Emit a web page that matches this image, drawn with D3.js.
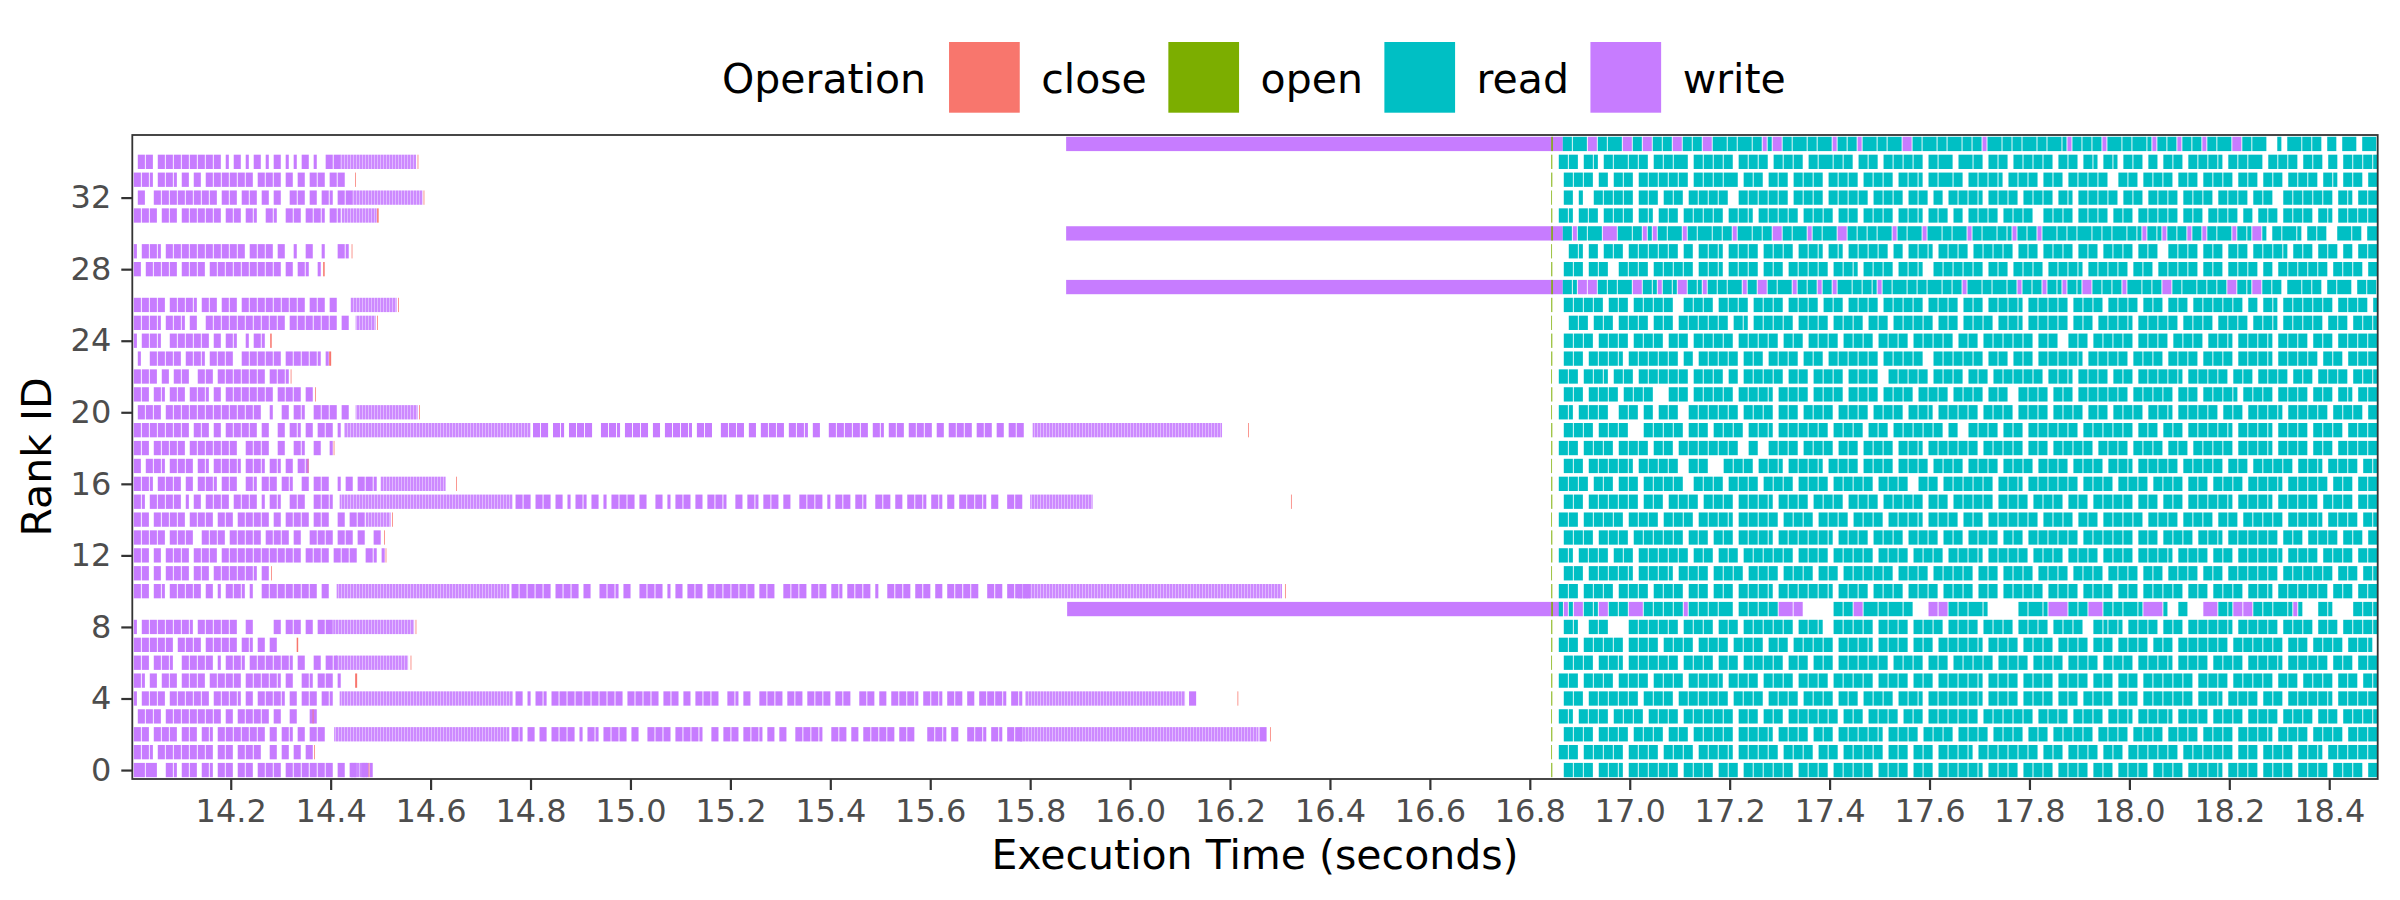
<!DOCTYPE html>
<html><head><meta charset="utf-8">
<script src="https://cdn.jsdelivr.net/npm/d3@7"></script>
<style>
body{margin:0;background:#fff}
svg{display:block}
text{font-family:"DejaVu Sans",sans-serif}
</style></head>
<body><svg id="chart" width="2400" height="900"></svg>
<script>
// ---------------- data ----------------
const operations = ["close", "open", "read", "write"];
const opColors = ["#F8766D", "#7CAE00", "#00BFC4", "#C77CFF"];
const timeTicks = [14.2,14.4,14.6,14.8,15.0,15.2,15.4,15.6,15.8,16.0,16.2,16.4,16.6,16.8,17.0,17.2,17.4,17.6,17.8,18.0,18.2,18.4];
const rankTicks = [0,4,8,12,16,20,24,28,32];
const timeDomain = [14.003, 18.497];
const rankDomain = [-0.5, 35.5];

// write-phase traces: [rank, start time, pattern]; one character = 8 ms
// W = a write begins, w = it continues, . = idle
const writeSlot = 0.008;
const writeTraces = [
  [0, 14.006, "WwwWww..WwW.WwWw.WwW.WwWw.WwWw.WwWwWw.WwWwWwWwWwWw.Ww.Ww.WwW"],
  [1, 14.006, "WwWwW.WwWwWwWwWwWwWw.WwWw.WwWwWw..Ww.Ww.Ww.Ww"],
  [2, 14.006, "WwWw.WwWwWw.WwWw.WwW.WwWwWwWwWwWw.Ww.WwW.Ww.WwWw."],
  [2, 14.762, "WwW.Ww.Ww.WwWwWw.W.WwW.WwWwWw.Ww..WwWwWw.WwWwWwW..Ww.WwWw.WwWwW.Ww.Ww..WwWwWwW..WwWw.Ww.WwWwWwWw.WwWw...WwWwW.Ww..WwWwW.WwW.WwWw"],
  [2, 16.259, "Ww"],
  [3, 14.006, ".WwWwWw.WwWwWwWwWwWwWw.Ww.WwWwWwWw.Ww..Ww...Ww"],
  [4, 14.006, "W.WwWwWw.WwWwWwWwWw.WwWwWwW.Ww.WwWwWwW.Ww.WwWw.WwW."],
  [4, 14.770, "Ww.W.WwW.WwWwWwWwWwWwWwWwWw.WwWwWwWw.WwWw.Ww.WwWwWw..WwW.Ww..WwWwWw.WwWw.WwWwWw.WwWw..WwWw.Ww.WwWwWwW.WwWwW.WwWw.Ww.WwWwWwW.WwW"],
  [4, 16.118, "Ww"],
  [5, 14.006, "WwW.Ww.WwWw.WwWwWw.WwWwWwWw.WwWwWwWwW.Ww..WwW.WwWw.W."],
  [6, 14.006, "WwWw.WwWwW..WwWwWwWw.W.WwWwW.WwWwWwWwWwW.Ww..Ww.WwW"],
  [7, 14.006, "WwWwWwWwWw.WwWwWw.WwWwWwWw.WwW.Ww.Ww."],
  [8, 14.006, "W.WwWwWwWwWwWwW.WwWwWwWwWw..Ww.....Ww.WwWw.Ww.WwWw"],
  [10, 14.006, "WwWw.WwW.WwWwWwWw.Ww.W.WwWwW.W..WwWwWwWwWwWwWw.Ww."],
  [10, 14.762, "WwWwWwWwWw.WwWwWw.Ww..WwWwW.Ww..WwWwWw.W.Ww.WwWw.WwWwWwWwWwWw.WwWw..WwWwWw.WwWw.WwW.WwWwWw.W..WwWwWw.WwWw.Ww.WwWwWwWw..WwWw.WwWwWw"],
  [11, 14.006, "WwWw.Ww.WwWwWw.WwWw.WwWwWwWwWwW.Ww"],
  [12, 14.006, "WwWw.Ww.WwWwWw.WwWwWw.WwWwWwWwWwWwWwWwWwWw.WwWwWw.WwWwWw..WwW.W"],
  [13, 14.006, "WwWwWwWw.WwWwWw..WwWwWw.WwWwWwWw.WwWwWw.Ww..WwWwWw.WwWw.Ww..Ww"],
  [14, 14.006, "WwWw.WwWwWwWw.WwWwWw.WwWw.WwWwWwWw.Ww.WwWwWw.WwWw..Ww.WwWw"],
  [15, 14.006, "WwW.WwWwWwWw.W.Ww.WwWwWw.WwWwWw.W.WwW..WwWw..WwWwW."],
  [15, 14.770, "WwWw.WwWw.Ww.W.WwW.Ww.W.WwWwWw.Ww..Ww.W.WwWw.Ww.WwWwW..Ww.WwW.WwWw.Ww..WwWwWw.W.WwWw.WwW..WwWw.Ww.WwWwW.WwW.Ww.WwWwWwW.Ww..WwWw"],
  [16, 14.006, "WwWwW.WwWwWw.Ww.WwWwW.WwWw..WwW.WwWw.WwW..Ww.WwWw..W.Ww.WwWwW."],
  [17, 14.006, "Ww.WwWwW.WwWwWw.WwW.WwWwWwW.WwWwW.WwW.Ww.WwW"],
  [18, 14.006, "WwWw.WwWwWwWw.WwWwWwWwWwWw..WwWwWw..Ww..WwW..Ww..W"],
  [19, 14.006, "WwWwWwWwWwWwWw.WwWw.Ww.WwWwWwWw.Ww..Ww.WwW.Ww.WwWw.W"],
  [19, 14.805, "WwWw.WwW.WwWwWw..WwWwW.WwWwWw.Ww.WwWwWwW.WwWw..WwWwWw.Ww.WwWwWw.WwWwW.Ww..WwWwWwWwWw.WwW.WwWw.WwWwWw.Ww.WwWwWw.WwWw.Ww.WwWw"],
  [20, 14.006, ".WwWwWw.WwWwWwWwWwWwWwWwWwWwWwWw..W..Ww.WwW..WwWwWw.Ww."],
  [21, 14.006, "WwWw.WwW.WwWw.WwWwW.Ww.WwWwWwWwWwWw.WwWwWw.Ww"],
  [22, 14.006, "WwWwWw.Ww.WwWw..WwWw.WwWwWwWwWwWw.WwWwW"],
  [23, 14.006, ".W..WwWwWwWw.WwWwW.WwWwWw..WwWwWwWwWw.WwWwWwWwW.W"],
  [24, 14.006, "W.WwWwW..WwWwWwWwWw.Ww.WwW..W.WwW."],
  [25, 14.006, "WwWwWwW.WwWwW.Ww..WwWwWwWwWwWwWwWwWwWw.WwWwWwWwWwWw.Ww."],
  [26, 14.006, "WwWwWwWw.WwWwWwW.WwWw.WwWw.WwWwWwWwWwWwWwWw.WwWw.Ww..."],
  [28, 14.006, "Ww.WwWwWwWw.WwWwWw.WwWwWwWwWwWwWwWwWw.Ww.WwW..W"],
  [29, 14.006, "W.WwWwW.WwWwWwWwWwWwWwWwWwWw.WwWwWw.Ww..W..Ww..W...WwW"],
  [31, 14.006, "WwWwWw.WwWw.WwWwWwWwWw.WwWw.WwW..WwW..WwWw.WwWwW.WwW"],
  [32, 14.006, ".Ww..WwWwWwWwWwWwWwWw.WwWw.WwWw.Ww.Ww..WwWw.Ww.WwW.WwWw"],
  [33, 14.006, "WwWwW.WwWwW.Ww.Ww.WwWwWwWwWwWw.WwWwWw.Ww.Ww.WwWw.WwWw"],
  [34, 14.006, ".WwWw.WwWwWwWwWwWwWwWw.W.Ww.W.Ww.W.Ww.W.W.Ww.W..WwWw"]
];

// bursts of very short writes: [rank, start, end]
const denseWrites = [
  [0, 14.440, 14.473], [2, 14.407, 14.758], [2, 15.780, 16.257],
  [4, 14.418, 14.765], [4, 15.790, 16.110], [6, 14.410, 14.555],
  [8, 14.405, 14.567], [10, 14.412, 14.758], [10, 15.776, 16.304],
  [14, 14.470, 14.520], [15, 14.418, 14.764], [15, 15.800, 15.925],
  [16, 14.500, 14.630], [19, 14.427, 14.800], [19, 15.805, 16.184],
  [20, 14.450, 14.574], [25, 14.450, 14.490], [26, 14.440, 14.532],
  [31, 14.422, 14.492], [32, 14.444, 14.584], [34, 14.420, 14.571]
];

// long single writes: [rank, start, end]
const longWrites = [[9, 15.874, 16.866], [27, 15.872, 16.866], [30, 15.872, 16.866], [35, 15.872, 16.866]];

// read-phase traces: [rank, start time, pattern]; one character = 10 ms
// R/r = read, W/w = write, . = idle (spaces are only for readability)
const readSlot = 0.010;
const readTraces = [
  [0, 16.858, ".RrRrRr.Rr RrR.RrRrRr RrRr.RrRrR r.RrRr.RrR rRrRrRr.Rr RrRr.RrRrR rRr.RrRrRr .RrRr.RrRr RrRrR.RrRr Rr.RrRrRr. RrRrRr.RrR r.RrRrRr.R rRrRr.RrRr RrR.RrRrRr .RrRrRr.Rr RrRr.RrRrR r.RrRr.RrR"],
  [1, 16.858, "RrRr.RrRrR rRr.RrRrRr .RrRrRr.Rr RrRrR.RrRr RrRr.RrRrR r.RrRr.RrR rRrRr.RrRr .RrRr.RrRr RrR.RrRrRr RrRrRr.RrR r.RrRrRr.R rRr.RrRrRr RrRr.RrRrR rRrRr.RrRr .RrRrRr.Rr RrR.RrRrRr RrRr.RrRr."],
  [2, 16.858, ".RrRrRr.Rr RrRr.RrRrR r.RrRr.RrR rRrRr.RrRr RrR.RrRrRr .RrRr.RrRr RrRrR.RrRr Rr.RrRrRr. RrRrRr.RrR rRr.RrRr.R rRrRrRr.Rr RrRr.RrRrR r.RrRrRr.R rRrRr.RrRr RrR.RrRrRr .RrRrRr.Rr RrRr.RrRr."],
  [3, 16.858, "RrR.RrRrRr .RrRrRr.Rr RrRr.RrRrR rRrRr.RrRr .RrRr.RrRr RrRrRr.RrR r.RrRrRr.R rRr.RrRrRr RrRr.RrRrR rRrRr.RrRr Rr.RrRrRr. RrRrR.RrRr RrR.RrRrRr .RrRrRr.Rr RrRr.RrRrR r.RrRr.RrR rRrRrRr.Rr"],
  [4, 16.858, ".RrRr.RrRr RrRrRr.RrR rRr.RrRrRr RrRr.RrRrR r.RrRrRr.R rRrRr.RrRr .RrRrRr.Rr RrR.RrRrRr RrRrR.RrRr Rr.RrRrRr. RrRr.RrRrR r.RrRr.RrR rRrRrRr.Rr RrR.RrRrRr .RrRr.RrRr RrRrR.RrRr RrRr.RrRrR"],
  [5, 16.858, "RrRr.RrRrR r.RrRrRr.R rRrRr.RrRr RrR.RrRrRr .RrRrRr.Rr RrRr.RrRrR rRr.RrRrRr .RrRr.RrRr RrRrR.RrRr Rr.RrRrRr. RrRrRr.RrR r.RrRr.RrR rRrRrRr.Rr RrRr.RrRrR rRr.RrRr.R rRrRr.RrRr .RrRrRr.Rr"],
  [6, 16.858, ".RrRrRr.Rr RrR.RrRrRr RrRr.RrRrR r.RrRr.RrR rRrRr.RrRr .RrRr.RrRr RrRrRr.RrR rRr.RrRr.R rRrRrRr.Rr RrRr.RrRrR r.RrRrRr.R rRrRr.RrRr RrR.RrRrRr .RrRrRr.Rr RrRrR.RrRr RrRr.RrRr. RrRrRr.RrR"],
  [7, 16.858, "RrRr.RrRrR rRr.RrRrRr .RrRrRr.Rr RrRr.RrRrR r.RrRr.RrR rRrRr.RrRr RrR.RrRrRr .RrRr.RrRr RrRrR.RrRr Rr.RrRrRr. RrRrRr.RrR r.RrRrRr.R rRr.RrRrRr RrRr.RrRrR rRrRr.RrRr .RrRrRr.Rr RrR.RrRrRr"],
  [8, 16.858, ".RrR..RrRr ....RrRrRr RrRr.RrRrR r.RrRr.RrR rRrRrRr.Rr RrR..RrRrR rRr.RrRrRr .RrRrRr.Rr RrRr.RrRrR r.RrRrRr.R rRrRr..RrR RrR.RrRrRr .RrRr.RrRr RrRrR.RrRr RrRr.RrRrR r.RrRr.RrR rRrRrRr.Rr"],
  [9, 16.858, "RWRWwRrRWw RrRrWwwRrR rRrRrWRrRr RrRrr.RrRr RrRrWwwWw. .....RrRrW wRrrRrRrrR r...WwWwRr RrRrrR.... ..RrRrrRWw wwRrRrWwwR rRrRrrRWww wR..Rr...W wwRrRWwWwR rRrRrrRWR. ..RrR....R rRrRr.RrrR"],
  [10, 16.858, "RrRr.RrRrR r.RrRrRr.R rRrRr.RrRr .RrRr.RrRr RrR.RrRrRr RrRrR.RrRr Rr.RrRrRr. RrRrRr.RrR rRr.RrRr.R rRrRrRr.Rr RrRr.RrRrR r.RrRr.RrR rRrRr.RrRr .RrRrRr.Rr RrR.RrRrRr RrRr.RrRr. RrRrRr.RrR"],
  [11, 16.858, ".RrRr.RrRr RrRrR.RrRr RrR.RrRrRr .RrRrRr.Rr RrRr.RrRrR r.RrRr.RrR rRrRrRr.Rr RrRr.RrRrR rRr.RrRr.R rRrRr.RrRr Rr.RrRrRr. RrRrRr.RrR r.RrRrRr.R rRr.RrRrRr RrRr.RrRrR rRrRr.RrRr .RrRrRr.Rr"],
  [12, 16.858, "RrR.RrRrRr .RrRr.RrRr RrRrRr.RrR r.RrRr.RrR rRrRrRr.Rr RrRr.RrRrR rRr.RrRrRr .RrRrRr.Rr RrRrR.RrRr RrRr.RrRrR r.RrRrRr.R rRrRr.RrRr RrR.RrRrRr .RrRr.RrRr RrRrR.RrRr Rr.RrRrRr. RrRrRr.RrR"],
  [13, 16.858, ".RrRrRr.Rr RrRr.RrRrR rRrRr.RrRr .RrRr.RrRr RrR.RrRrRr RrRrR.RrRr Rr.RrRrRr. RrRrRr.RrR r.RrRrRr.R rRr.RrRrRr RrRr.RrRrR rRrRr.RrRr .RrRrRr.Rr RrR.RrRrRr RrRr.RrRr. RrRrRr.RrR r.RrRr.RrR"],
  [14, 16.858, "RrRr.RrRrR rRr.RrRrRr .RrRrRr.Rr RrRrR.RrRr RrRr.RrRrR r.RrRrRr.R rRrRr.RrRr RrR.RrRrRr .RrRr.RrRr RrRrRr.RrR rRr.RrRr.R rRrRrRr.Rr RrRr.RrRrR r.RrRr.RrR rRrRr.RrRr RrR.RrRrRr .RrRrRr.Rr"],
  [15, 16.858, ".RrRr.RrRr RrRrRr.RrR r.RrRrRr.R rRrRr.RrRr RrR.RrRrRr .RrRrRr.Rr RrRr.RrRrR rRr.RrRr.R rRrRrRr.Rr RrRr.RrRrR r.RrRr.RrR rRrRr.RrRr .RrRr.RrRr RrRrR.RrRr RrR.RrRrRr Rr.RrRrRr. RrRrRr.RrR"],
  [16, 16.858, "RrRrRr.RrR r.RrRr.RrR rRrRr..RrR rRr.RrRrRr .RrRrRr.Rr RrRr.RrRrR rRr.RrRrRr ..RrRr.RrR rRrRrRr.Rr RrR.RrRrRr RrRr.RrRrR r.RrRrRr.R rRrRr.RrRr .RrRrRr.Rr RrRrR.RrRr RrRr.RrRr. RrRrRr.RrR"],
  [17, 16.858, ".RrRr.RrRr RrRrR.RrRr RrRr..RrRr ...RrRrRr. RrRrR.RrRr RrR.RrRrRr .RrRrRr.Rr RrRr.RrRrR r.RrRrRr.R rRrRr.RrRr Rr.RrRrRr. RrRrR.RrRr RrRr.RrRrR rRr.RrRr.R rRrRrRr.Rr RrR.RrRrRr .RrRr.RrRr"],
  [18, 16.858, "RrRr.RrRrR r.RrRrRr.R rRr.RrRrRr RrRrRr..Rr ..RrRrRr.R rRrRr.RrRr .RrRrRr.Rr RrR.RrRrRr RrRr.RrRrR rRr.RrRr.R rRrRrRr.Rr RrRr.RrRrR r.RrRr.RrR rRrRr.RrRr RrR.RrRrRr .RrRr.RrRr RrRrRr.RrR"],
  [19, 16.858, ".RrRrRr.Rr RrRr...RrR rRrRr.RrRr .RrRrRr.Rr RrR.RrRrRr RrRr.RrRrR r.RrRr.RrR rRrRrRr.Rr ..RrRrRr.R rRr.RrRrRr RrRr.RrRrR rRrRr.RrRr .RrRr.RrRr RrRrR.RrRr RrR.RrRrRr .RrRrRr.Rr RrRr.RrRrR"],
  [20, 16.858, "RrR.RrRrRr ..RrRr.Rr. RrRr..RrRr RrRrRr.RrR rRr.RrRr.R rRrRr.RrRr Rr.RrRrRr. RrRrR.RrRr RrRr.RrRrR r.RrRrRr.R rRrRr.RrRr .RrRrRr.Rr RrR.RrRrRr Rr.RrRr.Rr RrRrR.RrRr RrRr.RrRrR r.RrRrRr.R"],
  [21, 16.858, ".RrRr.RrRr Rr.RrRrRr. ..RrRr.RrR rRrRr.RrRr RrR.RrRrRr .RrRrRr.Rr RrRr.RrRrR r.RrRrRr.R rRrRr.RrRr ..RrRrRr.R rRr.RrRrRr RrRr.RrRrR rRr.RrRr.R rRrRrR.RrR rRr.RrRrRr .RrRr.RrR. RrRrRr.RrR"],
  [22, 16.858, "RrRr.RrRrR .RrRr.RrRr RrRrRr.RrR rRr.Rr.RrR rRrRr.RrRr .RrRrRr.Rr RrRr..RrRr RrRr.RrRrR r.RrRr.RrR rRrRrRr.Rr RrR.RrRrRr .RrRr.RrRr RrRrR.RrRr RrRr.RrRr. RrRrRr.RrR r.RrRrRr.R rRrRr.RrRr"],
  [23, 16.858, ".RrRr.RrRr RrR.RrRrRr RrRr.Rr.Rr RrRrRr.RrR r.RrRrRr.R rRr.RrRrRr RrRr.RrRrR rRr..RrRrR rRrRr.RrRr .RrRr.RrRr RrRrR.RrRr RrRr.RrRrR r.RrRrRr.R rRrRr.RrRr RrR.RrRrRr Rr.RrRr.Rr RrRrRr.RrR"],
  [24, 16.858, ".RrRrRr.Rr RrRr.RrRrR r.RrRr.RrR rRrRr.RrRr RrRr.RrRr. RrRrRr.RrR rRr.RrRrRr .RrRrRrRr. RrRr.RrRrR rRrRr.RrRr ..RrRr.RrR rRrRr.RrRr Rr.RrRrRr. RrRrR.RrRr RrR.RrRrRr .RrRr.RrRr RrRrRr.RrR"],
  [25, 16.858, "..RrRr.RrR r.RrRrRr.R rRr.RrRrRr RrRr.RrR.R rRrRrRr.Rr RrRr.RrRrR r.RrRr.RrR rRrRr.RrRr .RrRrRr.Rr RrR.RrRrRr Rr.RrRr.Rr RrRrR.RrRr RrRr.RrRrR r.RrRrRr.R rRrR.RrRrR rRr.RrRr.R rRrRrRr.Rr"],
  [26, 16.858, ".RrRrRrRr. RrRr.RrRrR rRr..RrRrR r.RrRrRr.R rRrRr.RrRr Rr.RrRr.Rr RrRr.RrRrR rRr.RrRrRr .RrRr.RrRr RrR.RrRrRr Rr.RrRrRr. RrRrRr.RrR r.RrRr.RrR rRrRrRr.Rr .RrR.RrRrR rRrRr.RrRr Rr.RrRrRr."],
  [27, 16.866, "RrRWwWwRrR rRrrWwRrRW RrRWwRrRWR rRrRrrWRrW wRrRrrWRrR rWRrWRrrRr RrRWRrRrrR rRrRrrRrRr WRrrRrRrrR rWRrRrWRrR WRrRWwRrRr RrWRrrRrRr WwRrRrrRrR rRrWwRrRWw RrRr.RrrRr Rr.RrRrr.R rRrRr.RrrR"],
  [28, 16.858, ".RrRr.RrRr ..RrRrRr.R rRrRrRr.Rr RrR.RrRrRr .RrRr.RrRr RrRr.RrRrR .RrRrRr.Rr RrR..RrRrR rRrRr.RrRr .RrRrRr.Rr RrRrR.RrRr RrRr.RrRr. RrRrRrRr.R rRr.RrRrRr .Rr.RrRrRr RrRr.RrRrR r.RrRr.RrR"],
  [29, 16.858, "..RrR.Rr.R rRr.RrRrRr RrRr.Rr.Rr RrR.RrRrRr .RrRrRr.Rr RrR.RrR.Rr RrRrRr.Rr. RrRrR.RrRr Rr.RrRrRrR r.RrRr.RrR rRr.RrRr.R rRrRr.RrRr ..RrRrRr.R rRr.RrRr.R rRrRrR.RrR r.RrRr.Rr. RrRrRr.RrR"],
  [30, 16.866, "RrWRrRrrWw wRrrRrWRWR rRrrWRrRrr RrRrWRrrRr RrWwRrRrrW RrRrrWwRrR rRrRrrWRrR rrWRrrRrRr rWRrRrrRrR WRrRrWRrrR rRrRrrRrRr RrrRrRWRrR WRrRrWRrWR rRrrWRrRWw R.RrRrrR.R rRr..RrrRr .RrrRrRrrR"],
  [31, 16.858, "RrR.RrRr.R rRrRr.RrR. RrRr.RrRrR rRr.RrRrR. RrRrRrRr.R rRrRr.RrRr .RrRrRr.Rr RrR.RrRr.R r.RrRrRr.R rRrRr..RrR rRr.RrRrRr .RrRr.RrRr RrRr.RrRr. RrRrRr.Rr. RrRr.RrRrR r.RrR.RrRr RrRr.RrRr."],
  [32, 16.858, ".Rr.R..RrR rRrRr.RrRr .RrRr.RrRr RrRr..RrRr RrRrRr.RrR rRr.RrRrRr Rr.RrRrRr. RrRr.Rr.Rr RrRrR.RrRr Rr.RrRrRr. RrR.RrRrRr Rr.RrRr.Rr RrRr.RrRrR r.RrRrRr.R rRr..RrRrR rRrRr.RrR. RrRrRr.RrR"],
  [33, 16.858, ".RrRrRr.Rr .RrRr.RrRr RrRrRr.RrR rRrRrr.RrR r.RrRr.RrR rRr.RrRrRr .RrRrRr.Rr RrR.RrRrrR r.RrRrRrR. RrRrRr.RrR r.RrRrRrRr ..RrRr.RrR rRr.RrRr.R rRrRr.RrRr .RrRr.RrRr Rr.RrR.RrR r.RrRrRr.R"],
  [34, 16.858, "RrRr.RrR.R rRrrRrRr.R rRrRrr.RrR rRrRr.RrRr Rr.RrRrRr. RrRrrRrRr. RrRr.RrRrR rRr.RrRrr. RrrRr.RrRr .RrRrRrRr. RrRr.RrR.R rR.RrRr.Rr .RrRr.RrRr RrR.RrRrRr r.RrRrRr.R rRr.Rr.RrR rRrRr.RrRr"],
  [35, 16.866, "RrRrrWwRrR rrWwRrWwRr RrWwRrRrWw RrrRrRrrRr WRWwRrRrrR rRrrWRrRrW RrrRrRrrWw RrRrrRrRrr RrRrWRrrRr RrRrrRrRrr RWRrRrRrWR rrRrRrrRWR rRrWRrRrWR rRrrWwRrRr r..R.RrrRr Rr.Rr.Rrr. RrrR.Rrrrr"]
];

// close operations: [rank, time, duration]
const closeOps = [
  [5, 14.449, 0.004], [7, 14.332, 0.003], [23, 14.397, 0.004], [24, 14.279, 0.003],
  [31, 14.493, 0.003], [28, 14.385, 0.003],
  [34, 14.574, 0.0015], [33, 14.449, 0.0015], [32, 14.586, 0.0015], [29, 14.442, 0.0015],
  [26, 14.535, 0.0015], [25, 14.493, 0.0015], [20, 14.577, 0.0015], [16, 14.651, 0.0015],
  [14, 14.523, 0.0015], [8, 14.570, 0.0015], [6, 14.560, 0.0015], [0, 14.476, 0.0015],
  [12, 14.510, 0.0015], [13, 14.507, 0.0015], [3, 14.364, 0.0015], [1, 14.367, 0.0015],
  [11, 14.281, 0.0015], [17, 14.354, 0.0015], [18, 14.406, 0.0015], [21, 14.369, 0.0015],
  [22, 14.320, 0.0015],
  [2, 16.280, 0.0015], [4, 16.215, 0.0015], [10, 16.310, 0.0015], [15, 16.322, 0.0015], [19, 16.236, 0.0015]
];

// open operations: [rank, time, duration]
const openOps = [
  [0,16.843,0.002],[1,16.843,0.0015],[2,16.843,0.002],[3,16.843,0.0015],[4,16.843,0.002],[5,16.843,0.002],
  [6,16.843,0.0015],[7,16.843,0.002],[8,16.843,0.002],[9,16.843,0.003],[10,16.843,0.002],[11,16.843,0.0015],
  [12,16.843,0.002],[13,16.843,0.002],[14,16.843,0.0015],[15,16.843,0.002],[16,16.843,0.002],[17,16.843,0.0015],
  [18,16.843,0.002],[19,16.843,0.002],[20,16.843,0.0015],[21,16.843,0.002],[22,16.843,0.0015],[23,16.843,0.002],
  [24,16.843,0.002],[25,16.843,0.0015],[26,16.843,0.002],[27,16.843,0.003],[28,16.843,0.002],[29,16.843,0.0015],
  [30,16.843,0.003],[31,16.843,0.002],[32,16.843,0.0015],[33,16.843,0.002],[34,16.843,0.002],[35,16.843,0.003]
];

// ---------------- drawing ----------------
const svg = d3.select("#chart");
const panel = {left: 132.3, right: 2377.7, top: 135, bottom: 779};
const x = d3.scaleLinear().domain(timeDomain).range([panel.left, panel.right]);
const y = d3.scaleLinear().domain(rankDomain).range([panel.bottom, panel.top]);
const color = d3.scaleOrdinal().domain(operations).range(opColors);
const half = 0.4;

const defs = svg.append("defs");
defs.append("clipPath").attr("id", "panelClip").append("rect")
  .attr("x", panel.left).attr("y", panel.top)
  .attr("width", panel.right - panel.left).attr("height", panel.bottom - panel.top);
const pat = defs.append("pattern").attr("id", "denseFill")
  .attr("patternUnits", "userSpaceOnUse").attr("width", 3).attr("height", 20);
pat.append("rect").attr("width", 3).attr("height", 20).attr("fill", color("write"));
pat.append("rect").attr("x", 2).attr("width", 1).attr("height", 20).attr("fill", "#ffffff").attr("opacity", 0.4);

function expand(traces, slot) {
  const out = [];
  traces.forEach(([rank, t0, pattern]) => {
    let s = 0, cur = null;
    for (const ch of pattern) {
      if (ch === " ") continue;
      const t = t0 + s * slot;
      if (ch === ".") { cur = null; }
      else {
        const op = (ch === "W" || ch === "w") ? "write" : "read";
        const starts = ch === ch.toUpperCase();
        if (starts || !cur || cur.op !== op) {
          cur = {rank, op, t0: t, t1: t + slot};
          out.push(cur);
        } else {
          cur.t1 = t + slot;
        }
      }
      s++;
    }
  });
  return out;
}

const ops = expand(writeTraces, writeSlot).concat(expand(readTraces, readSlot));

const g = svg.append("g").attr("clip-path", "url(#panelClip)");
const rowTop = r => y(r + half);
const rowH = r => y(r - half) - y(r + half);

// long writes
g.selectAll("rect.long").data(longWrites).join("rect").attr("class", "long")
  .attr("x", d => x(d[1])).attr("width", d => x(d[2]) - x(d[1]))
  .attr("y", d => rowTop(d[0])).attr("height", d => rowH(d[0]))
  .attr("fill", color("write"));

// dense write bursts
g.selectAll("rect.dense").data(denseWrites).join("rect").attr("class", "dense")
  .attr("x", d => x(d[1])).attr("width", d => x(d[2]) - x(d[1]))
  .attr("y", d => rowTop(d[0])).attr("height", d => rowH(d[0]))
  .attr("fill", "url(#denseFill)").attr("opacity", 0.9);

// individual ops
g.selectAll("rect.op").data(ops).join("rect").attr("class", "op")
  .attr("x", d => x(d.t0))
  .attr("width", d => Math.max(x(d.t1) - x(d.t0) - 0.9, 0.8))
  .attr("y", d => rowTop(d.rank)).attr("height", d => rowH(d.rank))
  .attr("fill", d => color(d.op));

// open & close markers
g.selectAll("rect.open").data(openOps).join("rect").attr("class", "open")
  .attr("x", d => x(d[1])).attr("width", d => x(d[1] + d[2]) - x(d[1]))
  .attr("y", d => rowTop(d[0])).attr("height", d => rowH(d[0]))
  .attr("fill", color("open"));
g.selectAll("rect.close").data(closeOps).join("rect").attr("class", "close")
  .attr("x", d => x(d[1])).attr("width", d => x(d[1] + d[2]) - x(d[1]))
  .attr("y", d => rowTop(d[0])).attr("height", d => rowH(d[0]))
  .attr("fill", color("close"));

// axes
const xAxis = svg.append("g").attr("transform", `translate(0,${panel.bottom})`)
  .call(d3.axisBottom(x).tickValues(timeTicks).tickFormat(d3.format(".1f")).tickSize(11).tickPadding(9));
const yAxis = svg.append("g").attr("transform", `translate(${panel.left},0)`)
  .call(d3.axisLeft(y).tickValues(rankTicks).tickFormat(d3.format("d")).tickSize(11).tickPadding(10));
[xAxis, yAxis].forEach(a => {
  a.select(".domain").remove();
  a.selectAll(".tick line").attr("stroke", "#333333").attr("stroke-width", 2.2);
  a.selectAll(".tick text").attr("fill", "#4D4D4D").attr("font-size", 32)
    .attr("font-family", "DejaVu Sans, sans-serif");
});

// panel border
svg.append("rect").attr("x", panel.left).attr("y", panel.top)
  .attr("width", panel.right - panel.left).attr("height", panel.bottom - panel.top)
  .attr("fill", "none").attr("stroke", "#333333").attr("stroke-width", 1.8);

// axis titles
svg.append("text").attr("x", (panel.left + panel.right) / 2).attr("y", 869)
  .attr("text-anchor", "middle").attr("font-size", 41).attr("fill", "#000")
  .text("Execution Time (seconds)");
svg.append("text").attr("transform", `translate(51,${(panel.top + panel.bottom) / 2}) rotate(-90)`)
  .attr("text-anchor", "middle").attr("font-size", 41).attr("fill", "#000")
  .text("Rank ID");

// legend
const leg = svg.append("g");
let lx = 722;
const baseY = 92.5, keyY = 42, keySize = 70.7;
const title = leg.append("text").attr("x", lx).attr("y", baseY).attr("font-size", 41).attr("fill", "#000").text("Operation");
lx += title.node().getComputedTextLength() + 23;
operations.forEach(op => {
  leg.append("rect").attr("x", lx).attr("y", keyY).attr("width", keySize).attr("height", keySize).attr("fill", color(op));
  lx += keySize + 21.5;
  const t = leg.append("text").attr("x", lx).attr("y", baseY).attr("font-size", 41).attr("fill", "#000").text(op);
  lx += t.node().getComputedTextLength() + 21.5;
});
</script>
</body></html>
